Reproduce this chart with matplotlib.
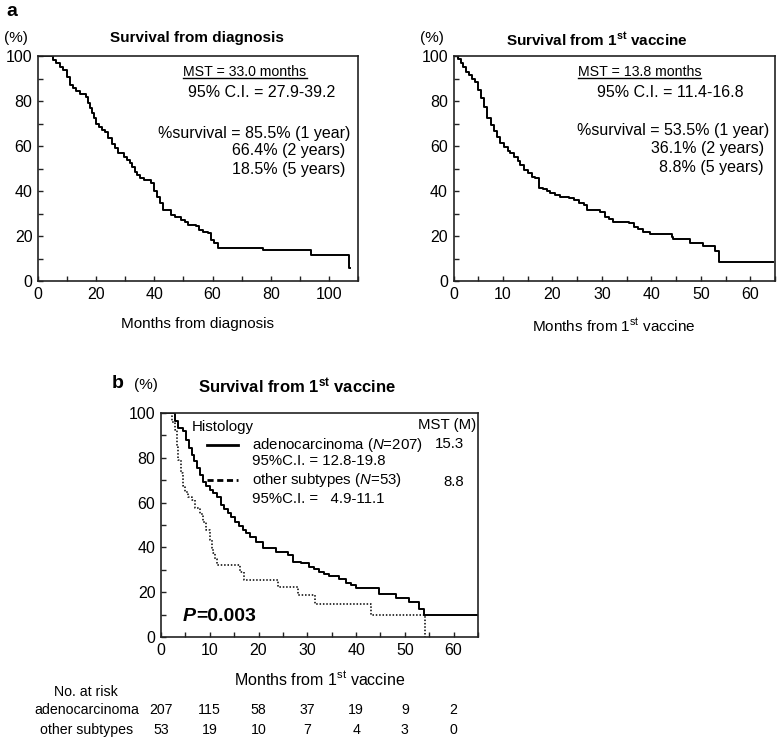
import matplotlib
matplotlib.use('Agg')
import matplotlib.pyplot as plt
from matplotlib import font_manager, transforms
from matplotlib.ticker import MultipleLocator
from matplotlib.lines import Line2D

# ---------------- data ----------------
diag_months = [0, 5.2, 6.3, 7.5, 8.7, 9.8, 11.0, 12.1, 13.2, 14.4,
               16.4, 17.2, 17.8, 18.6, 19.3, 20.0, 21.0, 22.0, 23.0, 24.2,
               25.3, 26.3, 27.5, 29.6, 30.5, 31.5, 32.3, 33.2, 34.0, 35.0,
               36.5, 39.0, 40.0, 40.8, 41.8, 42.9, 45.8, 47.0, 49.2, 50.4,
               51.5, 54.4, 55.5, 56.8, 58.3, 59.5, 60.6, 61.8, 77.2, 93.7,
               106.8, 107.3]
diag_surv = [100, 98.4, 96.7, 95.3, 93.8, 90.8, 87.1, 85.6, 84.6, 83.1,
             81.8, 79.0, 77.0, 74.5, 72.5, 70.0, 68.6, 67.3, 66.4, 63.5,
             61.0, 59.0, 56.8, 55.3, 53.6, 52.3, 50.5, 48.6, 46.9, 45.6,
             45.0, 43.4, 40.0, 37.5, 34.5, 31.6, 29.3, 28.6, 27.1, 26.2,
             24.9, 24.4, 22.7, 22.0, 21.2, 18.2, 16.8, 14.8, 13.8, 11.6,
             5.6, 5.6]

vac_months = [0, 1.0, 1.5, 2.0, 2.6, 3.2, 3.8, 4.4, 5.0, 5.6,
              6.1, 6.8, 7.5, 8.1, 8.8, 9.5, 10.3, 11.0, 11.5, 12.2,
              13.0, 13.5, 14.3, 15.0, 15.9, 16.5, 17.2, 18.0, 18.9, 19.6,
              20.5, 21.5, 23.4, 24.3, 25.3, 26.3, 27.0, 29.6, 30.6, 31.5,
              32.3, 35.4, 36.4, 37.4, 38.4, 39.7, 44.1, 44.4, 47.8, 50.5,
              52.8, 53.7, 64.5]
vac_surv = [100, 98.5, 97, 95, 93, 91.5, 90, 88.5, 85, 81.5,
            77.5, 72.5, 69.5, 66.5, 64, 61.5, 59.5, 58, 56.7, 55.2,
            53.5, 51.6, 49.5, 48.0, 46.4, 45.6, 41.2, 40.8, 40.2, 39.0,
            38.2, 37.5, 36.7, 36.0, 34.6, 33.6, 31.6, 30.8, 28.6, 27.5,
            26.4, 25.8, 24.1, 23.0, 21.9, 20.9, 19.7, 18.5, 17.0, 15.5,
            13.5, 8.6, 8.6]

adeno_months = [0, 2.9, 3.5, 4.6, 5.2, 5.8, 6.3, 6.8, 7.3, 8.0,
                8.6, 9.3, 10.0, 10.7, 11.4, 12.4, 13.0, 13.7, 14.4, 15.1,
                16.0, 16.8, 17.5, 18.2, 19.5, 20.9, 23.6, 26.0, 27.0, 28.8,
                30.4, 31.4, 32.4, 33.5, 34.5, 36.5, 37.9, 38.9, 39.9, 44.7,
                48.1, 50.8, 52.9, 54.0, 65]
adeno_surv = [100, 96.5, 93.3, 91.8, 88.0, 84.5, 81.4, 78.5, 75.4, 72.4,
              69.4, 67.5, 65.7, 64.2, 62.7, 59.0, 57.2, 55.3, 53.4, 51.5,
              49.7, 47.8, 46.3, 44.8, 42.5, 39.6, 38.0, 36.6, 33.6, 33.0,
              31.3, 30.2, 29.1, 28.0, 27.2, 25.7, 24.3, 23.1, 21.7, 19.4,
              17.5, 15.7, 12.7, 9.7, 9.7]

other_months = [0, 2.2, 2.9, 3.2, 3.5, 4.2, 4.6, 4.9, 5.6, 6.3,
                6.9, 8.0, 8.6, 9.3, 10.0, 10.4, 10.7, 11.1, 11.4, 16.1,
                17.0, 24.0, 28.0, 31.6, 43.0, 54.1]
other_surv = [100, 96.2, 92.5, 85.0, 79.0, 73.1, 67.2, 64.9, 62.7, 61.2,
              57.5, 54.7, 51.5, 47.8, 43.3, 39.6, 37.3, 34.7, 32.1, 29.1,
              25.4, 22.4, 18.7, 14.9, 9.7, 0]

risk_times = [0, 10, 20, 30, 40, 50, 60]
risk_adeno = [207, 115, 58, 37, 19, 9, 2]
risk_other = [53, 19, 10, 7, 4, 3, 0]
risk_groups = ['adenocarcinoma', 'other subtypes']

# ---------------- fonts ----------------
plt.rcParams['font.family'] = ['Liberation Sans', 'DejaVu Sans']
plt.rcParams['mathtext.fontset'] = 'custom'
plt.rcParams['mathtext.rm'] = 'Liberation Sans'
plt.rcParams['mathtext.it'] = 'Liberation Sans:italic'
plt.rcParams['mathtext.bf'] = 'Liberation Sans:bold'

names = {f.name for f in font_manager.fontManager.ttflist}
narrow = None
for cand in ['Liberation Sans Narrow', 'Arial Narrow']:
    if cand in names:
        narrow = cand
        break
if narrow:
    NARROW = [narrow, 'Liberation Sans', 'DejaVu Sans']
    title_a_size = 12.5
    mst_size = 12
else:
    NARROW = ['Liberation Sans', 'DejaVu Sans']
    title_a_size = 11
    mst_size = 10.2

W, H = 777, 739
fig = plt.figure(figsize=(W / 100, H / 100), dpi=100)


def fx(px):
    return px / W


def fy(py):
    return 1 - py / H


def add_ax(x0, x1, y0, y1):
    return fig.add_axes([fx(x0), fy(y1), (x1 - x0) / W, (y1 - y0) / H])


def style(ax, xmax, xmajor, xminor):
    ax.set_xlim(0, xmax)
    ax.set_ylim(0, 100)
    ax.xaxis.set_major_locator(MultipleLocator(xmajor))
    ax.xaxis.set_minor_locator(MultipleLocator(xminor))
    ax.yaxis.set_major_locator(MultipleLocator(20))
    ax.yaxis.set_minor_locator(MultipleLocator(10))
    ax.tick_params(which='both', direction='in', length=3.5, width=1.0,
                   labelsize=11.5, pad=4, color='#222222')
    for sp in ax.spines.values():
        sp.set_linewidth(1.2)
        sp.set_color('#222222')


ax1 = add_ax(38, 358, 56, 281)
ax2 = add_ax(453.5, 775, 56, 281)
ax3 = add_ax(161, 478, 413, 637)

style(ax1, 110, 20, 10)
style(ax2, 65, 10, 5)
style(ax3, 65, 10, 5)

ax1.step(diag_months, diag_surv, where='post', color='black', lw=1.4)
ax2.step(vac_months, vac_surv, where='post', color='black', lw=1.4)
ax3.step(adeno_months, adeno_surv, where='post', color='black', lw=1.4)
ax3.step(other_months, other_surv, where='post', color='black', lw=1.1,
         linestyle=(0, (1, 1.2)))

# axis labels
ax1.set_xlabel('Months from diagnosis', fontsize=11, labelpad=11)
ax2.set_xlabel('Months from 1$^{\\rm st}$ vaccine', fontsize=11, labelpad=11)
ax3.set_xlabel('Months from 1$^{\\rm st}$ vaccine', fontsize=11.5, labelpad=9)

# panel letters, units, titles
fig.text(fx(12), fy(12), 'a', fontsize=14, fontweight='bold', ha='center', va='center')
fig.text(fx(16), fy(38), '(%)', fontsize=11, ha='center', va='center', family=NARROW)
fig.text(fx(432), fy(38), '(%)', fontsize=11, ha='center', va='center', family=NARROW)
fig.text(fx(197), fy(38), 'Survival from diagnosis', fontsize=title_a_size,
         fontweight='bold', ha='center', va='center', family=NARROW)
fig.text(fx(597), fy(40), 'Survival from 1$^{\\mathbf{st}}$ vaccine', fontsize=title_a_size,
         fontweight='bold', ha='center', va='center', family=NARROW)
fig.text(fx(118), fy(383), 'b', fontsize=14, fontweight='bold', ha='center', va='center')
fig.text(fx(146), fy(385), '(%)', fontsize=11, ha='center', va='center', family=NARROW)
fig.text(fx(297), fy(386), 'Survival from 1$^{\\mathbf{st}}$ vaccine', fontsize=12,
         fontweight='bold', ha='center', va='center')

# annotations in panel a
fs = 11.5
m1 = ax1.text(0.647, 0.929, 'MST = 33.0 months', transform=ax1.transAxes,
              fontsize=mst_size, ha='center', va='center', family=NARROW)
ax1.text(0.928, 0.836, '95% C.I. = 27.9-39.2', transform=ax1.transAxes,
         fontsize=fs, ha='right', va='center')
ax1.text(0.376, 0.656, '%survival = 85.5% (1 year)', transform=ax1.transAxes,
         fontsize=fs, ha='left', va='center')
ax1.text(0.959, 0.578, '66.4% (2 years)', transform=ax1.transAxes,
         fontsize=fs, ha='right', va='center')
ax1.text(0.959, 0.496, '18.5% (5 years)', transform=ax1.transAxes,
         fontsize=fs, ha='right', va='center')

m2 = ax2.text(0.578, 0.929, 'MST = 13.8 months', transform=ax2.transAxes,
              fontsize=mst_size, ha='center', va='center', family=NARROW)
ax2.text(0.901, 0.837, '95% C.I. = 11.4-16.8', transform=ax2.transAxes,
         fontsize=fs, ha='right', va='center')
ax2.text(0.384, 0.668, '%survival = 53.5% (1 year)', transform=ax2.transAxes,
         fontsize=fs, ha='left', va='center')
ax2.text(0.966, 0.587, '36.1% (2 years)', transform=ax2.transAxes,
         fontsize=fs, ha='right', va='center')
ax2.text(0.966, 0.505, '8.8% (5 years)', transform=ax2.transAxes,
         fontsize=fs, ha='right', va='center')

# legend of panel b
lfs = 10.8
ax3.text(0.097, 0.936, 'Histology', transform=ax3.transAxes, fontsize=lfs,
         ha='left', va='center')
ax3.text(0.993, 0.946, 'MST (M)', transform=ax3.transAxes, fontsize=lfs,
         ha='right', va='center')
ax3.add_line(Line2D([0.144, 0.244], [0.858, 0.858], transform=ax3.transAxes,
                    color='black', lw=2.0))
ax3.text(0.286, 0.858, 'adenocarcinoma ($\\mathit{N}$=207)', transform=ax3.transAxes,
         fontsize=lfs, ha='left', va='center')
ax3.text(0.955, 0.860, '15.3', transform=ax3.transAxes, fontsize=lfs,
         ha='right', va='center')
ax3.text(0.286, 0.784, '95%C.I. = 12.8-19.8', transform=ax3.transAxes,
         fontsize=lfs, ha='left', va='center')
ax3.add_line(Line2D([0.144, 0.244], [0.703, 0.703], transform=ax3.transAxes,
                    color='black', lw=2.0, linestyle=(0, (2.2, 1.3))))
ax3.text(0.286, 0.703, 'other subtypes ($\\mathit{N}$=53)', transform=ax3.transAxes,
         fontsize=lfs, ha='left', va='center')
ax3.text(0.955, 0.690, '8.8', transform=ax3.transAxes, fontsize=lfs,
         ha='right', va='center')
ax3.text(0.286, 0.617, '95%C.I. =   4.9-11.1', transform=ax3.transAxes,
         fontsize=lfs, ha='left', va='center')

p1 = ax3.text(0.069, 0.091, 'P', transform=ax3.transAxes, fontsize=14,
              fontweight='bold', fontstyle='italic', ha='left', va='center')
ax3.annotate('=0.003', xy=(1, 0), xycoords=p1, fontsize=14, fontweight='bold',
             ha='left', va='bottom')

# number at risk table
rfs = 10.2
blend = transforms.blended_transform_factory(ax3.transData, fig.transFigure)
fig.text(fx(86), fy(692), 'No. at risk', fontsize=rfs, ha='center', va='center')
for row, (grp, counts) in enumerate(zip(risk_groups, [risk_adeno, risk_other])):
    yrow = fy(710 + 20 * row)
    fig.text(fx(87), yrow, grp, fontsize=rfs, ha='center', va='center')
    for t, n in zip(risk_times, counts):
        ax3.text(t, yrow, str(n), transform=blend, fontsize=rfs,
                 ha='center', va='center', clip_on=False)

# underline the MST lines
fig.canvas.draw()
r = fig.canvas.get_renderer()
for m in (m1, m2):
    bb = m.get_window_extent(r)
    y = bb.y0 + 1
    fig.add_artist(Line2D([bb.x0 / fig.bbox.width, bb.x1 / fig.bbox.width],
                          [y / fig.bbox.height, y / fig.bbox.height],
                          transform=fig.transFigure, color='black', lw=1.0))

fig.savefig('out.png', dpi=100)
